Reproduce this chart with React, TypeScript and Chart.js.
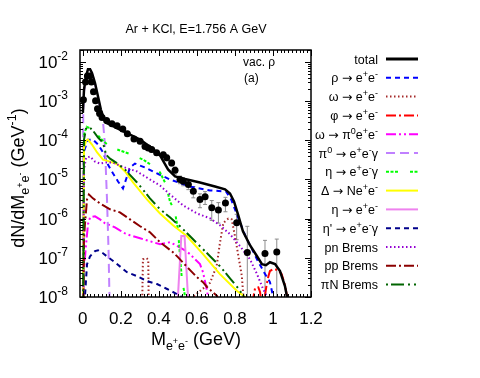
import React, { useEffect, useRef } from "react";
import { Chart, registerables } from "chart.js";
Chart.register(...registerables);

// ---------- data ----------
const X_TICKS = [0, 0.2, 0.4, 0.6, 0.8, 1, 1.2];
const X_TICK_LABELS = ["0", "0.2", "0.4", "0.6", "0.8", "1", "1.2"];
const Y_TICK_EXPONENTS = [-2, -3, -4, -5, -6, -7, -8];

const dataX = [0.003, 0.014, 0.024, 0.035, 0.045, 0.056, 0.067, 0.077, 0.088, 0.101, 0.125, 0.153, 0.18, 0.21, 0.234, 0.269, 0.301, 0.327, 0.344, 0.362, 0.388, 0.423, 0.441, 0.467, 0.485, 0.511, 0.528, 0.555, 0.581, 0.616, 0.643, 0.678, 0.713, 0.75, 0.809, 0.865, 0.958, 1.02];
const dataY = [1.08e-3, 3.1e-3, 4.4e-3, 4.4e-3, 3.1e-3, 1.73e-3, 1.02e-3, 6.4e-4, 4.8e-4, 3.8e-4, 3.2e-4, 2.65e-4, 2.36e-4, 1.94e-4, 1.48e-4, 1.08e-4, 9.4e-5, 7.0e-5, 6.4e-5, 5.8e-5, 4.8e-5, 4.3e-5, 3.6e-5, 2.65e-5, 1.72e-5, 1.0e-5, 9.0e-6, 7.5e-6, 5.0e-6, 3.1e-6, 3.6e-6, 1.9e-6, 1.67e-6, 2.5e-6, 7.9e-7, 1.37e-7, 1.29e-7, 1.41e-7];
const dataErr = [1.3e-4, 3.5e-4, 5e-4, 5e-4, 3.5e-4, 2e-4, 1.2e-4, 8e-5, 6e-5, 4.5e-5, 3.5e-5, 3e-5, 2.6e-5, 2.2e-5, 1.8e-5, 1.4e-5, 1.2e-5, 9e-6, 8.5e-6, 8e-6, 7e-6, 6.5e-6, 6e-6, 4.5e-6, 3.5e-6, 2.2e-6, 2.1e-6, 2.0e-6, 1.6e-6, 1.2e-6, 1.3e-6, 1.0e-6, 9e-7, 1.0e-6, 5e-7, 5e-7, 1.5e-7, 1.6e-7];

const totalX = [0, 0.006, 0.017, 0.027, 0.038, 0.048, 0.064, 0.08, 0.095, 0.111, 0.122, 0.143, 0.195, 0.248, 0.301, 0.353, 0.406, 0.448, 0.485, 0.537, 0.616, 0.695, 0.748, 0.774, 0.795, 0.816, 0.842, 0.879, 0.916, 0.942, 0.963, 0.984, 1.011, 1.037, 1.063, 1.074, 1.08];
const totalY = [5e-4, 1.94e-3, 4.4e-3, 6.5e-3, 6.5e-3, 5.2e-3, 2.9e-3, 1.29e-3, 6.0e-4, 3.6e-4, 2.81e-4, 2.5e-4, 1.87e-4, 1.39e-4, 1.04e-4, 6.9e-5, 4.1e-5, 1.8e-5, 1.2e-5, 1.03e-5, 8.4e-6, 6.6e-6, 5.6e-6, 4.4e-6, 2.75e-6, 1.29e-6, 4.75e-7, 2.1e-7, 1.1e-7, 6.9e-8, 6.5e-8, 7.7e-8, 6.9e-8, 4.6e-8, 1.9e-8, 1.0e-8, 1e-10];

const rhoX = [0, 0.006, 0.027, 0.053, 0.08, 0.106, 0.132, 0.159, 0.185, 0.211, 0.227, 0.248, 0.274, 0.327, 0.38, 0.458, 0.564, 0.669, 0.753, 0.78, 0.806, 0.832, 0.858, 0.89, 0.921, 0.953, 0.984, 1.0, 1.005];
const rhoY = [1e-10, 5.2e-5, 1.04e-4, 1.04e-4, 7.8e-5, 4.9e-5, 2.4e-5, 1.42e-5, 8.9e-6, 5.9e-6, 1.0e-5, 2.02e-5, 2.55e-5, 2.02e-5, 1.51e-5, 1.0e-5, 6.6e-6, 5.25e-6, 4.95e-6, 3.1e-6, 1.45e-6, 6.8e-7, 3.35e-7, 1.66e-7, 8.2e-8, 4.3e-8, 2.4e-8, 1.06e-8, 1e-10];

const omegaX = [0.306, 0.316, 0.335, 0.344, 0.35, 0.575, 0.579, 0.606, 0.669, 0.704, 0.721, 0.739, 0.765, 0.783, 0.8, 0.818, 0.836, 0.844, 0.85];
const omegaY = [1e-10, 9.2e-8, 9.8e-8, 9.0e-8, 1e-10, 1e-10, 1e-8, 1.3e-8, 2.3e-8, 6.3e-8, 2.4e-7, 7.8e-7, 1.0e-6, 9.6e-7, 3.6e-7, 1.12e-7, 3.5e-8, 1.1e-8, 1e-10];

const phiX = [0.885, 0.897, 0.906, 0.923, 0.932, 0.937, 0.953, 0.958, 0.967, 0.976, 0.984, 1.002, 1.028, 1.046, 1.063, 1.075, 1.089];
const phiY = [1e-10, 1.0e-8, 1.7e-8, 1.75e-8, 1.35e-8, 9e-9, 5e-9, 1.1e-8, 2.1e-8, 3.4e-8, 4.6e-8, 5.15e-8, 4.9e-8, 3.8e-8, 2.0e-8, 1.0e-8, 1e-10];

const omegaDalitzX = [0, 0.006, 0.017, 0.027, 0.038, 0.064, 0.09, 0.117, 0.143, 0.169, 0.195, 0.222, 0.248, 0.301, 0.353, 0.406, 0.458, 0.49, 0.537, 0.564, 0.59, 0.616, 0.632, 0.648, 0.659, 0.665];
const omegaDalitzY = [1e-10, 5.15e-8, 2.22e-7, 7.2e-7, 1.08e-6, 1.15e-6, 9.6e-7, 7.6e-7, 6.8e-7, 6.0e-7, 5.0e-7, 4.2e-7, 3.77e-7, 3.16e-7, 2.65e-7, 2.22e-7, 2.5e-7, 2.1e-7, 1.56e-7, 1.24e-7, 9.2e-8, 6.9e-8, 4.3e-8, 1.9e-8, 1e-8, 1e-10];

const pi0X = [0, 0.002, 0.006, 0.017, 0.027, 0.038, 0.048, 0.064, 0.08, 0.095, 0.106, 0.114, 0.119, 0.127, 0.135, 0.14, 0.142];
const pi0Y = [1e-10, 6.0e-4, 1.73e-3, 4.2e-3, 6.3e-3, 6.3e-3, 5.2e-3, 2.75e-3, 1.22e-3, 5.4e-4, 2.98e-4, 1.04e-4, 3.2e-5, 3.1e-6, 1.66e-7, 1.06e-8, 1e-10];

const etaDalitzX = [0, 0.006, 0.02, 0.055, 0.099, 0.143, 0.195, 0.257, 0.318, 0.371, 0.406, 0.437, 0.458, 0.474, 0.485, 0.5, 0.52, 0.528, 0.537, 0.545];
const etaDalitzY = [1e-10, 1.39e-4, 2.22e-4, 1.87e-4, 1.04e-4, 6.9e-5, 5.5e-5, 4.3e-5, 3.2e-5, 2.14e-5, 1.51e-5, 7.5e-6, 2.75e-6, 1.94e-6, 1.45e-6, 5.3e-7, 3.2e-8, 1.9e-8, 1.06e-8, 1e-10];

const deltaX = [0, 0.006, 0.017, 0.027, 0.048, 0.075, 0.106, 0.143, 0.185, 0.222, 0.264, 0.337, 0.406, 0.474, 0.548, 0.632, 0.721, 0.811, 0.853, 0.86];
const deltaY = [1e-10, 6.5e-5, 9.8e-5, 1.04e-4, 7.8e-5, 4.9e-5, 3.2e-5, 2.86e-5, 2.4e-5, 1.6e-5, 8.4e-6, 3.1e-6, 1.36e-6, 6.8e-7, 3.55e-7, 1.24e-7, 3.84e-8, 1.42e-8, 1.0e-8, 1e-10];

const etaDirectX = [0.495, 0.5, 0.518, 0.535, 0.553, 0.558];
const etaDirectY = [1e-10, 1e-8, 3.6e-7, 3.6e-7, 1e-8, 1e-10];

const etaPrimeX = [0, 0.011, 0.022, 0.038, 0.064, 0.08, 0.106, 0.132, 0.169, 0.232, 0.285, 0.337, 0.39, 0.443, 0.485, 0.522, 0.53];
const etaPrimeY = [1e-10, 1.0e-8, 6.9e-8, 1.1e-7, 1.48e-7, 1.56e-7, 1.31e-7, 1.04e-7, 7.7e-8, 4.3e-8, 3.4e-8, 2.55e-8, 2.14e-8, 1.6e-8, 1.26e-8, 1.0e-8, 1e-10];

const pnX = [0, 0.006, 0.017, 0.038, 0.064, 0.09, 0.117, 0.159, 0.206, 0.285, 0.353, 0.406, 0.458, 0.527, 0.6, 0.669, 0.721, 0.774, 0.827, 0.879, 0.916, 0.948, 0.969, 0.975];
const pnY = [1e-10, 1.79e-5, 3.6e-5, 3.84e-5, 2.86e-5, 2.55e-5, 2.7e-5, 2.7e-5, 2.14e-5, 1.6e-5, 1.0e-5, 7.0e-6, 4.15e-6, 2.18e-6, 1.36e-6, 1.02e-6, 6.8e-7, 4.0e-7, 1.98e-7, 9.2e-8, 3.84e-8, 1.6e-8, 1.0e-8, 1e-10];

const ppX = [0, 0.006, 0.011, 0.022, 0.032, 0.053, 0.09, 0.143, 0.195, 0.248, 0.301, 0.353, 0.406, 0.474, 0.5, 0.564, 0.6, 0.632, 0.653, 0.706, 0.71];
const ppY = [1e-10, 2.98e-7, 7.2e-7, 3.1e-6, 4.15e-6, 3.3e-6, 2.45e-6, 1.73e-6, 1.45e-6, 9.6e-7, 6.4e-7, 4.5e-7, 2.5e-7, 1.39e-7, 1.04e-7, 4.85e-8, 3.2e-8, 2.4e-8, 1.8e-8, 1.06e-8, 1e-10];

const piNX = [0, 0.006, 0.017, 0.032, 0.053, 0.08, 0.106, 0.122, 0.143, 0.175, 0.222, 0.285, 0.353, 0.406, 0.458, 0.511, 0.564, 0.616, 0.669, 0.721, 0.774, 0.816, 0.848, 0.852];
const piNY = [1e-10, 1.04e-4, 1.98e-4, 2.22e-4, 1.77e-4, 1.17e-4, 8.7e-5, 4.3e-5, 3.4e-5, 2.7e-5, 1.79e-5, 8.4e-6, 3.3e-6, 1.73e-6, 1.08e-6, 6.4e-7, 3.55e-7, 1.98e-7, 1.1e-7, 6.1e-8, 3.0e-8, 1.7e-8, 1.0e-8, 1e-10];

// ---------- styles ----------
const FONT = "'Liberation Sans', Arial, Helvetica, sans-serif";
const ARROW_FONT = "'DejaVu Sans', sans-serif";
type Seg = { t: string; s: number; dy: number; f?: string };
const L = 12.5;
const n = (t: string): Seg => ({ t, s: L, dy: 0 });
const sp = (t: string): Seg => ({ t, s: 9, dy: -5 });
const AR: Seg[] = [n(" "), { t: "→", s: 12.5, dy: 0, f: ARROW_FONT }, n(" ")];
const EE: Seg[] = [n("e"), sp("+"), n("e"), sp("-")];

type Series = { key: string; xs: number[]; ys: number[]; color: string; width: number; dash: number[]; label: Seg[] };
const SERIES: Series[] = [
  { key: "total", xs: totalX, ys: totalY, color: "#000000", width: 2.5, dash: [], label: [n("total")] },
  { key: "rho", xs: rhoX, ys: rhoY, color: "#0000ff", width: 2, dash: [5, 4], label: [n("ρ"), ...AR, ...EE] },
  { key: "omega", xs: omegaX, ys: omegaY, color: "#a52a2a", width: 2, dash: [1.5, 2.5], label: [n("ω"), ...AR, ...EE] },
  { key: "phi", xs: phiX, ys: phiY, color: "#ff0000", width: 2, dash: [10, 3, 2, 3], label: [n("φ"), ...AR, ...EE] },
  { key: "omegaDalitz", xs: omegaDalitzX, ys: omegaDalitzY, color: "#ff00ff", width: 2, dash: [10, 3, 2, 3, 2, 3], label: [n("ω"), ...AR, n("π"), sp("0"), ...EE] },
  { key: "pi0", xs: pi0X, ys: pi0Y, color: "#c080ff", width: 2, dash: [9, 5], label: [n("π"), sp("0"), ...AR, ...EE, n("γ")] },
  { key: "etaDalitz", xs: etaDalitzX, ys: etaDalitzY, color: "#00ff00", width: 2, dash: [3, 1.5, 3, 1.5, 3, 12], label: [n("η"), ...AR, ...EE, n("γ")] },
  { key: "delta", xs: deltaX, ys: deltaY, color: "#ffff00", width: 2, dash: [], label: [n("Δ"), ...AR, n("N"), ...EE] },
  { key: "etaDirect", xs: etaDirectX, ys: etaDirectY, color: "#ee82ee", width: 2, dash: [], label: [n("η"), ...AR, ...EE] },
  { key: "etaPrime", xs: etaPrimeX, ys: etaPrimeY, color: "#00008b", width: 2, dash: [5, 4], label: [n("η'"), ...AR, ...EE, n("γ")] },
  { key: "pn", xs: pnX, ys: pnY, color: "#9400d3", width: 2, dash: [1.5, 2.5], label: [n("pn Brems")] },
  { key: "pp", xs: ppX, ys: ppY, color: "#8b0000", width: 2, dash: [10, 3, 2, 3], label: [n("pp Brems")] },
  { key: "piN", xs: piNX, ys: piNY, color: "#006400", width: 2, dash: [2, 3, 13, 4, 2, 4], label: [n("πN Brems")] },
];

function segWidth(ctx: CanvasRenderingContext2D, segs: Seg[]) {
  let w = 0;
  for (const s of segs) {
    ctx.font = `${s.s}px ${s.f || FONT}`;
    w += ctx.measureText(s.t).width;
  }
  return w;
}
function drawRich(ctx: CanvasRenderingContext2D, segs: Seg[], x: number, y: number, align: "left" | "center" | "right") {
  const w = segWidth(ctx, segs);
  let cx = align === "left" ? x : align === "center" ? x - w / 2 : x - w;
  ctx.textAlign = "left";
  ctx.textBaseline = "alphabetic";
  for (const s of segs) {
    ctx.font = `${s.s}px ${s.f || FONT}`;
    ctx.fillText(s.t, cx, y + s.dy);
    cx += ctx.measureText(s.t).width;
  }
}

const decor = {
  id: "decor",
  beforeDatasetsDraw(chart: any) {
    const ctx: CanvasRenderingContext2D = chart.ctx;
    const xs = chart.scales.x, ys = chart.scales.y, a = chart.chartArea;
    ctx.save();
    ctx.beginPath();
    ctx.rect(a.left, a.top, a.right - a.left, a.bottom - a.top);
    ctx.clip();
    ctx.strokeStyle = "#8c8c8c";
    ctx.lineWidth = 1;
    dataX.forEach((xv, i) => {
      const px = xs.getPixelForValue(xv);
      const hi = ys.getPixelForValue(dataY[i] + dataErr[i]);
      const lowV = dataY[i] - dataErr[i];
      const lo = lowV > 0 ? ys.getPixelForValue(lowV) : a.bottom + 5;
      ctx.beginPath();
      ctx.moveTo(px, hi);
      ctx.lineTo(px, lo);
      ctx.moveTo(px - 2, hi);
      ctx.lineTo(px + 2, hi);
      if (lowV > 0) {
        ctx.moveTo(px - 2, lo);
        ctx.lineTo(px + 2, lo);
      }
      ctx.stroke();
    });
    ctx.restore();
  },
  afterDraw(chart: any) {
    const ctx: CanvasRenderingContext2D = chart.ctx;
    const xs = chart.scales.x, ys = chart.scales.y, a = chart.chartArea;
    ctx.save();
    ctx.fillStyle = "#000";
    ctx.strokeStyle = "#000";
    ctx.lineWidth = 1;
    ctx.setLineDash([]);
    // ticks
    ctx.beginPath();
    for (let k = 0; k <= 60; k++) {
      const v = k * 0.02;
      const px = Math.round(xs.getPixelForValue(v)) + 0.5;
      const len = k % 10 === 0 ? 6 : 3;
      ctx.moveTo(px, a.bottom);
      ctx.lineTo(px, a.bottom - len);
      ctx.moveTo(px, a.top);
      ctx.lineTo(px, a.top + len);
    }
    for (let e = -8; e <= -2; e++) {
      for (let m = 1; m <= 9; m++) {
        const v = m * Math.pow(10, e);
        if (v > ys.max) continue;
        const py = Math.round(ys.getPixelForValue(v)) + 0.5;
        const len = m === 1 ? 6 : 3;
        ctx.moveTo(a.left, py);
        ctx.lineTo(a.left + len, py);
        ctx.moveTo(a.right, py);
        ctx.lineTo(a.right - len, py);
      }
    }
    ctx.stroke();
    // frame
    ctx.lineWidth = 1.5;
    ctx.strokeRect(a.left, a.top, a.right - a.left, a.bottom - a.top);
    // x tick labels
    X_TICKS.forEach((v, i) => {
      drawRich(ctx, [{ t: X_TICK_LABELS[i], s: 17, dy: 0 }], xs.getPixelForValue(v), 324, "center");
    });
    // y tick labels
    Y_TICK_EXPONENTS.forEach((e) => {
      const py = ys.getPixelForValue(Math.pow(10, e));
      drawRich(ctx, [{ t: "10", s: 17, dy: 0 }, { t: "-" + Math.abs(e), s: 12, dy: -8 }], 68, py + 6, "right");
    });
    // axis titles
    const sub: Seg[] = [
      { t: "e", s: 12.5, dy: 5 }, { t: "+", s: 9, dy: -1 },
      { t: "e", s: 12.5, dy: 5 }, { t: "-", s: 9, dy: -1 },
    ];
    drawRich(ctx, [{ t: "M", s: 18, dy: 0 }, ...sub, { t: " (GeV)", s: 18, dy: 0 }], 196, 345, "center");
    ctx.save();
    ctx.translate(24, 178);
    ctx.rotate(-Math.PI / 2);
    drawRich(ctx, [{ t: "dN/dM", s: 18, dy: 0 }, ...sub, { t: " (GeV", s: 18, dy: 0 }, { t: "-1", s: 12.5, dy: -8 }, { t: ")", s: 18, dy: 0 }], 0, 0, "center");
    ctx.restore();
    // title & annotations
    drawRich(ctx, [{ t: "Ar + KCl, E=1.756 A GeV", s: 12.5, dy: 0 }], 196, 32.5, "center");
    drawRich(ctx, [{ t: "vac. ρ", s: 12, dy: 0 }], 243, 66, "left");
    drawRich(ctx, [{ t: "(a)", s: 12, dy: 0 }], 244, 82, "left");
    // legend
    SERIES.forEach((s, i) => {
      const cy = 59 + i * 18.8;
      ctx.fillStyle = "#000";
      drawRich(ctx, s.label, 378, cy + 4.5, "right");
      ctx.beginPath();
      ctx.strokeStyle = s.color;
      ctx.lineWidth = s.key === "total" ? 3 : 2;
      ctx.setLineDash(s.dash);
      ctx.moveTo(386, cy);
      ctx.lineTo(418, cy);
      ctx.stroke();
      ctx.setLineDash([]);
    });
    ctx.restore();
  },
};

export default function App() {
  const ref = useRef<HTMLCanvasElement>(null);
  useEffect(() => {
    const canvas = ref.current;
    if (!canvas) return;
    const datasets: any[] = [
      {
        label: "data",
        data: dataX.map((x, i) => ({ x, y: dataY[i] })),
        showLine: false,
        pointRadius: 3.5,
        pointBackgroundColor: "#000",
        pointBorderColor: "#000",
        pointBorderWidth: 0,
        order: 0,
      },
      ...SERIES.map((s, idx) => ({
        label: s.key,
        data: s.xs.map((x, i) => ({ x, y: s.ys[i] })),
        showLine: true,
        borderColor: s.color,
        borderWidth: s.width,
        borderDash: s.dash,
        pointRadius: 0,
        tension: 0,
        fill: false,
        order: idx === 0 ? 1 : 2 + (SERIES.length - idx),
      })),
    ];
    const chart = new Chart(canvas, {
      type: "scatter",
      data: { datasets },
      options: {
        responsive: false,
        animation: false,
        devicePixelRatio: 1,
        layout: { padding: { left: 80, top: 50, right: 169, bottom: 81 } },
        plugins: { legend: { display: false }, tooltip: { enabled: false }, title: { display: false } },
        events: [],
        scales: {
          x: { type: "linear", min: -0.015, max: 1.2, display: false },
          y: { type: "logarithmic", min: 1e-8, max: 0.0202, display: false },
        },
      },
      plugins: [decor],
    } as any);
    return () => chart.destroy();
  }, []);
  return (
    <canvas
      ref={ref}
      width={480}
      height={378}
      style={{ position: "fixed", left: 0, top: 0, width: 480, height: 378, display: "block", background: "#fff" }}
    />
  );
}
